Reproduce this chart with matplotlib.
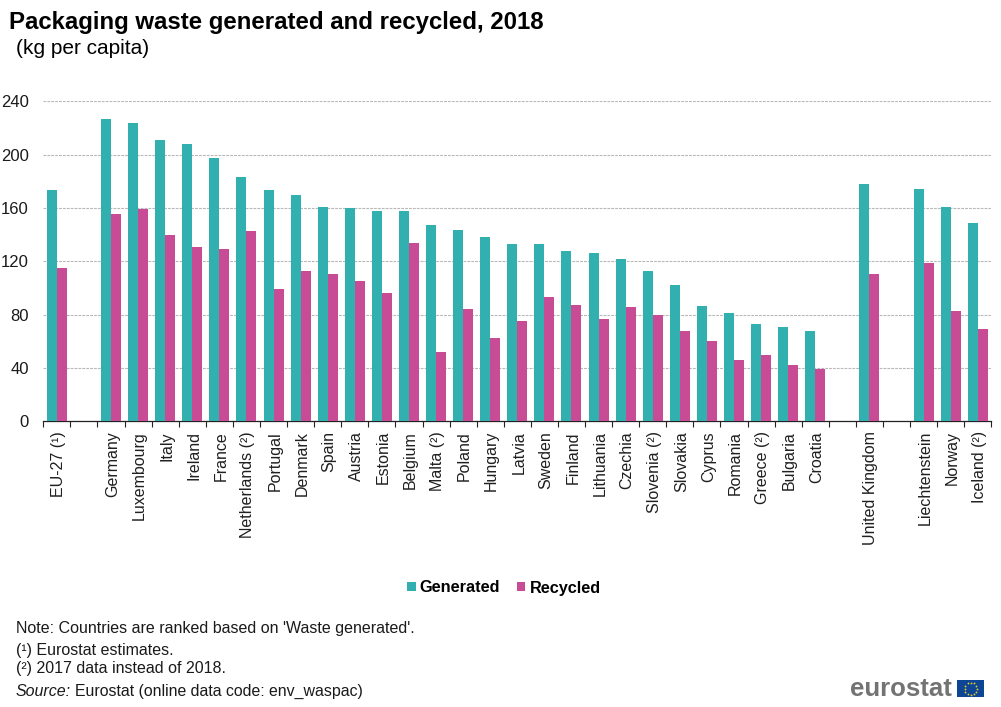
import matplotlib
matplotlib.use("Agg")
import numpy as np
import matplotlib.pyplot as plt
from matplotlib.patches import Rectangle
from matplotlib.transforms import ScaledTranslation

plt.rcParams['font.family'] = ['Liberation Sans', 'DejaVu Sans']

categories = ["EU-27 (¹)", "", "Germany", "Luxembourg", "Italy", "Ireland", "France", "Netherlands (²)",
              "Portugal", "Denmark", "Spain", "Austria", "Estonia", "Belgium", "Malta (²)", "Poland",
              "Hungary", "Latvia", "Sweden", "Finland", "Lithuania", "Czechia", "Slovenia (²)", "Slovakia",
              "Cyprus", "Romania", "Greece (²)", "Bulgaria", "Croatia", "", "United Kingdom", "",
              "Liechtenstein", "Norway", "Iceland (²)"]
generated = [173.5, np.nan, 227, 223.5, 211, 208, 197.5, 183, 173.5, 170, 161, 160, 158, 157.5, 147, 143.5,
             138, 133, 133, 128, 126, 122, 113, 102, 86.5, 81, 73, 71, 68, np.nan, 178, np.nan, 174, 161, 149]
recycled = [115, np.nan, 155.5, 159, 140, 131, 129, 143, 99, 113, 110.5, 105, 96, 134, 52, 84.5,
            62.5, 75, 93.5, 87.5, 77, 85.5, 79.5, 68, 60.5, 46, 50, 42.5, 39.5, np.nan, 110.5, np.nan, 119, 83, 69.5]
yticks = [0, 40, 80, 120, 160, 200, 240]
TEAL = "#32afaf"
MAGENTA = "#c84b96"
W, H = 1001, 707

fig = plt.figure(figsize=(W / 100, H / 100), dpi=100, facecolor="white")
ax = fig.add_axes([43.3 / W, 1 - 421.3 / H, 948 / W, 320.3 / H])
x = np.arange(len(categories))
bw = 0.37
ax.bar(x - bw / 2, generated, bw, color=TEAL, label="Generated", zorder=3)
ax.bar(x + bw / 2, recycled, bw, color=MAGENTA, label="Recycled", zorder=3)
ax.set_xlim(-0.5, len(categories) - 0.5)
ax.set_ylim(0, 240.3)
ax.set_yticks(yticks)
ax.set_xticks(x)
ax.set_xticklabels(categories, rotation=90, fontsize=11.5, color="#1f1f1f", va="top", ha="center")
ax.set_xticks(np.arange(-0.5, len(categories)), minor=True)
ax.tick_params(axis="x", which="major", length=0, pad=7)
ax.tick_params(axis="x", which="minor", length=4.5, width=0.8, color="#222222")
ax.tick_params(axis="y", length=0, labelsize=12, labelcolor="#1a1a1a", pad=10.3)
shift = ScaledTranslation(1.5 / 100, 0, fig.dpi_scale_trans)
for lab in ax.get_xticklabels():
    lab.set_transform(lab.get_transform() + shift)
ax.grid(axis="y", color="#b8b8b8", linestyle=(0, (2.5, 1)), linewidth=0.8, zorder=0)
ax.grid(axis="x", visible=False)
for s in ["top", "right", "left"]:
    ax.spines[s].set_visible(False)
ax.spines["bottom"].set_color("#222222")
ax.spines["bottom"].set_linewidth(0.9)

def T(px, py, s, **kw):
    fig.text(px / W, 1 - py / H, s, va="center", ha=kw.pop("ha", "left"), color=kw.pop("color", "#000000"), **kw)

T(9, 22, "Packaging waste generated and recycled, 2018", fontsize=17.3, fontweight="bold")
T(16, 49, "(kg per capita)", fontsize=15)
T(16, 628, "Note: Countries are ranked based on 'Waste generated'.", fontsize=11.5, color="#1a1a1a")
T(16, 650, "(¹) Eurostat estimates.", fontsize=11.5, color="#1a1a1a")
T(16, 669, "(²) 2017 data instead of 2018.", fontsize=11.5, color="#1a1a1a")
fig.text(16 / W, 1 - 691 / H, "Source:", fontsize=11.5, style="italic", va="center", color="#1a1a1a")
T(75, 691, "Eurostat (online data code: env_waspac)", fontsize=11.4, color="#1a1a1a")

h, l = ax.get_legend_handles_labels()
leg = fig.legend(h, l, loc="center", bbox_to_anchor=(504 / W, 1 - 588 / H), ncol=2, frameon=False,
                 prop={"size": 11.7, "weight": "bold"}, handlelength=0.5, handleheight=0.5,
                 handletextpad=0.25, columnspacing=1.05)
leg.get_texts()[1].set_y(-0.5)

T(850, 689, "eurostat", fontsize=18.5, fontweight="bold", color="#737373")
fig.add_artist(Rectangle((957 / W, 1 - 697 / H), 27 / W, 17 / H, transform=fig.transFigure,
                         facecolor="#0f4595", edgecolor="none"))
ang = np.arange(12) * 2 * np.pi / 12
fig.add_artist(plt.Line2D((970.5 + 6 * np.cos(ang)) / W, (1 - 688.5 / H + 6 * np.sin(ang) / H),
                          transform=fig.transFigure, linestyle="none", marker="o", markersize=1.3,
                          color="#e6d21e", markeredgewidth=0))
fig.savefig("out.png", dpi=100)
